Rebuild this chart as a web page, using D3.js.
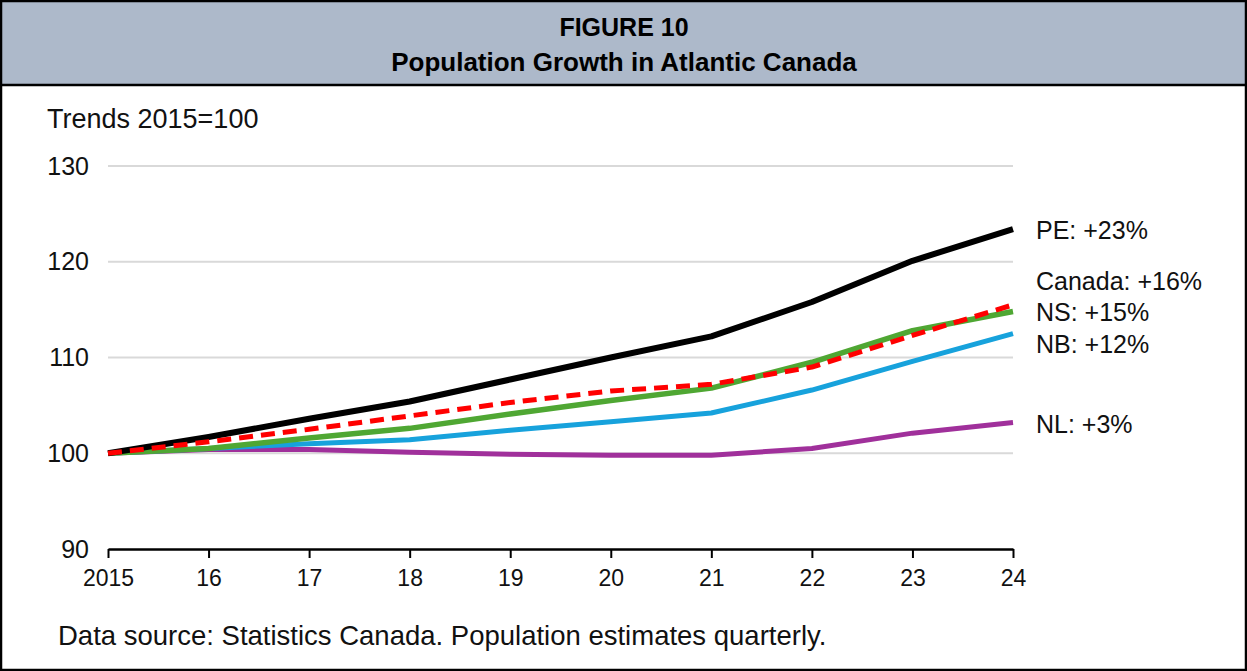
<!DOCTYPE html>
<html>
<head>
<meta charset="utf-8">
<script src="https://cdn.jsdelivr.net/npm/d3@7"></script>
<style>
  html, body { margin: 0; padding: 0; background: #fff; }
  svg { display: block; font-family: "Liberation Sans", Arial, sans-serif; }
</style>
</head>
<body>
<svg id="chart" width="1247" height="671"></svg>
<script>
// Years on the x axis (2015 = base year)
const years = [2015, 2016, 2017, 2018, 2019, 2020, 2021, 2022, 2023, 2024];
const yearLabels = ["2015", "16", "17", "18", "19", "20", "21", "22", "23", "24"];
const yTicks = [90, 100, 110, 120, 130];

// Population index, 2015 = 100
const pe     = [100, 101.7, 103.6, 105.4, 107.7, 110.0, 112.2, 115.8, 120.1, 123.4];
const canada = [100, 101.2, 102.5, 103.9, 105.3, 106.5, 107.2, 109.0, 112.3, 115.5];
const ns     = [100, 100.5, 101.6, 102.6, 104.1, 105.5, 106.8, 109.5, 112.8, 114.8];
const nb     = [100, 100.5, 101.0, 101.4, 102.4, 103.3, 104.2, 106.6, 109.6, 112.5];
const nl     = [100, 100.4, 100.4, 100.1, 99.9, 99.8, 99.8, 100.5, 102.1, 103.2];

const series = [
  { name: "NL",     values: nl,     color: "#a0309b", width: 5, dash: null },
  { name: "NB",     values: nb,     color: "#17a2dc", width: 5, dash: null },
  { name: "NS",     values: ns,     color: "#4fa733", width: 5.5, dash: null },
  { name: "PE",     values: pe,     color: "#000000", width: 6, dash: null },
  { name: "Canada", values: canada, color: "#ff0000", width: 5, dash: "14,8" }
];

// End-of-line labels (vertical centre of each label)
const endLabels = [
  { text: "PE: +23%",     y: 230 },
  { text: "Canada: +16%", y: 281 },
  { text: "NS: +15%",     y: 312 },
  { text: "NB: +12%",     y: 344 },
  { text: "NL: +3%",      y: 424 }
];

const W = 1247, H = 671;
const svg = d3.select("#chart");

// Frame and header band
svg.append("rect").attr("x", 0).attr("y", 0).attr("width", W).attr("height", 85)
  .attr("fill", "#adb9ca");
svg.append("line").attr("x1", 0).attr("x2", W).attr("y1", 85).attr("y2", 85)
  .attr("stroke", "#000").attr("stroke-width", 2.5);
svg.append("rect").attr("x", 1).attr("y", 1).attr("width", W - 2).attr("height", H - 2)
  .attr("fill", "none").attr("stroke", "#000").attr("stroke-width", 2.5);

svg.append("text").attr("x", 624).attr("y", 36).attr("text-anchor", "middle")
  .attr("font-size", 25).attr("font-weight", "bold").text("FIGURE 10");
svg.append("text").attr("x", 624).attr("y", 71).attr("text-anchor", "middle")
  .attr("font-size", 26).attr("font-weight", "bold").text("Population Growth in Atlantic Canada");

svg.append("text").attr("x", 47).attr("y", 128).attr("font-size", 27)
  .attr("fill", "#111").text("Trends 2015=100");

// Scales
const x = d3.scaleLinear().domain([2015, 2024]).range([108, 1013]);
const y = d3.scaleLinear().domain([90, 130]).range([549, 166]);

// Horizontal gridlines
svg.append("g").selectAll("line").data(yTicks.filter(t => t > 90)).join("line")
  .attr("x1", x(2015)).attr("x2", x(2024))
  .attr("y1", d => y(d)).attr("y2", d => y(d))
  .attr("stroke", "#d9d9d9").attr("stroke-width", 2);

// Y axis labels
const yAxis = d3.axisLeft(y).tickValues(yTicks).tickSize(0).tickPadding(0);
const gy = svg.append("g").attr("transform", "translate(89,0)").call(yAxis);
gy.select(".domain").remove();
gy.selectAll("text").attr("font-size", 25).attr("fill", "#111")
  .attr("font-family", "Liberation Sans, Arial, sans-serif");

// X axis
const xAxis = d3.axisBottom(x).tickValues(years).tickSize(9).tickSizeOuter(0).tickPadding(12)
  .tickFormat((d, i) => yearLabels[i]);
const gx = svg.append("g").attr("transform", `translate(0,${y(90)})`).call(xAxis);
gx.select(".domain").attr("stroke", "#000").attr("stroke-width", 2.5);
gx.selectAll(".tick line").attr("stroke", "#000").attr("stroke-width", 2);
gx.selectAll("text").attr("font-size", 23).attr("fill", "#111")
  .attr("font-family", "Liberation Sans, Arial, sans-serif");

// Series lines
const line = d3.line().x((d, i) => x(years[i])).y(d => y(d));
svg.append("g").selectAll("path").data(series).join("path")
  .attr("d", d => line(d.values))
  .attr("fill", "none")
  .attr("stroke", d => d.color)
  .attr("stroke-width", d => d.width)
  .attr("stroke-linejoin", "round")
  .attr("stroke-dasharray", d => d.dash);

// End labels
svg.append("g").selectAll("text").data(endLabels).join("text")
  .attr("x", 1036).attr("y", d => d.y + 9)
  .attr("font-size", 25).attr("fill", "#111").text(d => d.text);

// Source note
svg.append("text").attr("x", 58).attr("y", 645).attr("font-size", 27.5)
  .attr("fill", "#111").text("Data source: Statistics Canada. Population estimates quarterly.");
</script>
</body>
</html>
